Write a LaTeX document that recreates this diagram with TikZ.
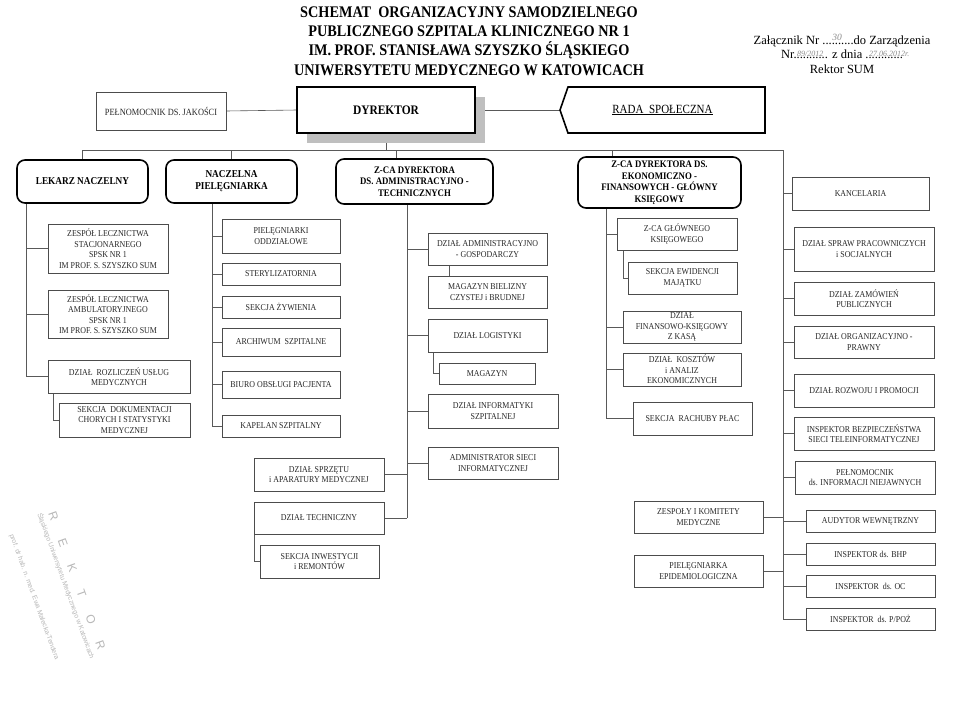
\documentclass[tikz,border=0pt]{standalone}
\usepackage{fontspec}
\setmainfont{Liberation Serif}
\newfontfamily\cnd[FakeStretch=0.88]{Liberation Serif}
\newfontfamily\stampfont{Liberation Sans}
\usetikzlibrary{shadows,backgrounds}
\tikzset{
  box/.style={draw=black!70, line width=0.6pt, fill=white, inner sep=1pt, outer sep=0pt,
    align=center, font=\cnd\fontsize{9}{10.5}\selectfont, text=black!85},
  chief/.style={box, draw=black, line width=1.6pt, rounded corners=8pt,
    font=\cnd\bfseries\fontsize{10.5}{12}\selectfont, text=black},
  link/.style={draw=black!65, line width=0.6pt},
  stamp/.style={rotate=-70, text=black!28, inner sep=0pt},
}
\newcommand\hw[3][3pt]{\rlap{\raisebox{#1}{\kern0.5pt\itshape\fontsize{#2}{#2}\selectfont\color{black!45}#3}}}
\newcommand\bx[7][]{\node[box,minimum width=#5pt-#3pt,minimum height=#6pt-#4pt,#1] (#2) at ({(#3+#5)/2},{(#4+#6)/2}) {#7};}
\begin{document}
\begin{tikzpicture}[x=1pt,y=-1pt]
\useasboundingbox (0,0) rectangle (960,715);

% ---------- header ----------
\node[font=\cnd\bfseries\fontsize{16.2}{19.3}\selectfont, align=center, inner sep=0pt] (title) at (469,41)
  {SCHEMAT\ \ ORGANIZACYJNY SAMODZIELNEGO\\PUBLICZNEGO SZPITALA KLINICZNEGO NR 1\\IM. PROF. STANISŁAWA SZYSZKO ŚLĄSKIEGO\\UNIWERSYTETU MEDYCZNEGO W KATOWICACH};
\node[font=\fontsize{12.5}{14.5}\selectfont, align=center, inner sep=0pt] (zal) at (842,54)
  {Załącznik Nr ...\hw[3.5pt]{9.5}{30}.......do Zarządzenia\\Nr.\hw[2pt]{8}{89/2012}.......... z dnia .\hw[2pt]{8}{27.06.2012r.}...........\\Rektor SUM};

% ---------- stamp ----------
\node[stamp, font=\stampfont\fontsize{12}{12}\selectfont] (st1) at (77,581) {R\hspace{1.6em}E\hspace{1.6em}K\hspace{1.6em}T\hspace{1.6em}O\hspace{1.6em}R};
\node[stamp, font=\stampfont\fontsize{6.8}{6.8}\selectfont] (st2) at (66,586) {Śląskiego Uniwersytetu Medycznego w Katowicach};
\node[stamp, font=\stampfont\fontsize{6.8}{6.8}\selectfont] (st3) at (34,597) {prof. dr hab. n. med. Ewa Małecka-Tendera};

% ---------- top row ----------
\bx[font=\cnd\fontsize{9.5}{11}\selectfont]{pel}{96}{92}{226}{130}{PEŁNOMOCNIK DS. JAKOŚCI}
\bx[draw=black, line width=1.6pt, text=black, font=\cnd\bfseries\fontsize{13}{15}\selectfont,
    drop shadow={shadow xshift=10pt, shadow yshift=-10pt, fill=black!25, opacity=1}]{dyr}{297}{87}{475}{133}{DYREKTOR}
\node[inner sep=0pt, outer sep=0pt, minimum width=205pt, minimum height=46pt,
      font=\cnd\fontsize{12.5}{14}\selectfont] (rada) at (662.5,110) {\underline{RADA\ \ SPOŁECZNA}};
\draw[line width=1.6pt] ([xshift=8pt]rada.north west) -- (rada.north east) -- (rada.south east)
   -- ([xshift=8pt]rada.south west) -- (rada.west) -- cycle;

% ---------- chiefs ----------
\bx[chief]{lek}{17}{160}{148}{203}{LEKARZ NACZELNY}
\bx[chief]{nacz}{166}{160}{297}{203}{NACZELNA\\PIELĘGNIARKA}
\bx[chief, font=\cnd\bfseries\fontsize{10}{11.5}\selectfont]{adm}{336}{159}{493}{204}{Z-CA DYREKTORA\\DS. ADMINISTRACYJNO -\\TECHNICZNYCH}
\bx[chief, font=\cnd\bfseries\fontsize{10}{11.5}\selectfont]{ekon}{578}{157}{741}{208}{Z-CA DYREKTORA DS.\\EKONOMICZNO -\\FINANSOWYCH - GŁÓWNY\\KSIĘGOWY}

% ---------- column: lekarz ----------
\bx{z1}{48}{224}{168}{273}{ZESPÓŁ LECZNICTWA\\STACJONARNEGO\\SPSK NR 1\\IM PROF. S. SZYSZKO SUM}
\bx{z2}{48}{290}{168}{338}{ZESPÓŁ LECZNICTWA\\AMBULATORYJNEGO\\SPSK NR 1\\IM PROF. S. SZYSZKO SUM}
\bx{roz}{48}{360}{190}{393}{DZIAŁ\ \ ROZLICZEŃ USŁUG\\MEDYCZNYCH}
\bx{sekd}{59}{403}{190}{437}{SEKCJA\ \ DOKUMENTACJI\\CHORYCH I STATYSTYKI\\MEDYCZNEJ}

% ---------- column: naczelna ----------
\bx{pielo}{222}{219}{340}{253}{PIELĘGNIARKI\\ODDZIAŁOWE}
\bx{ster}{222}{263}{340}{285}{STERYLIZATORNIA}
\bx{zyw}{222}{296}{340}{318}{SEKCJA ŻYWIENIA}
\bx{arch}{222}{328}{340}{356}{ARCHIWUM\ \ SZPITALNE}
\bx{biuro}{222}{371}{340}{398}{BIURO OBSŁUGI PACJENTA}
\bx{kap}{222}{415}{340}{437}{KAPELAN SZPITALNY}

% ---------- column: administracja ----------
\bx{dag}{428}{233}{547}{265}{DZIAŁ ADMINISTRACYJNO\\- GOSPODARCZY}
\bx{mbiel}{428}{276}{547}{308}{MAGAZYN BIELIZNY\\CZYSTEJ i BRUDNEJ}
\bx{dlog}{428}{319}{547}{352}{DZIAŁ LOGISTYKI}
\bx{mag}{439}{363}{535}{384}{MAGAZYN}
\bx{dinf}{428}{394}{558}{428}{DZIAŁ INFORMATYKI\\SZPITALNEJ}
\bx{asi}{428}{447}{558}{479}{ADMINISTRATOR SIECI\\INFORMATYCZNEJ}
\bx{dsp}{254}{458}{384}{491}{DZIAŁ SPRZĘTU\\i APARATURY MEDYCZNEJ}
\bx{dtech}{254}{502}{384}{534}{DZIAŁ TECHNICZNY}
\bx{sinw}{260}{545}{379}{578}{SEKCJA INWESTYCJI\\i REMONTÓW}

% ---------- column: ekonomia ----------
\bx{zgl}{617}{218}{737}{250}{Z-CA GŁÓWNEGO\\KSIĘGOWEGO}
\bx{sew}{628}{262}{737}{294}{SEKCJA EWIDENCJI\\MAJĄTKU}
\bx{dfin}{623}{311}{741}{343}{DZIAŁ\\FINANSOWO-KSIĘGOWY\\Z KASĄ}
\bx{dkosz}{623}{353}{741}{386}{DZIAŁ\ \ KOSZTÓW\\i ANALIZ\\EKONOMICZNYCH}
\bx{srach}{633}{402}{752}{435}{SEKCJA\ \ RACHUBY PŁAC}

% ---------- column: right ----------
\bx{kanc}{792}{177}{929}{210}{KANCELARIA}
\bx{dspr}{794}{227}{934}{271}{DZIAŁ SPRAW PRACOWNICZYCH\\i SOCJALNYCH}
\bx{dzam}{794}{282}{934}{315}{DZIAŁ ZAMÓWIEŃ\\PUBLICZNYCH}
\bx{dorg}{794}{326}{934}{358}{DZIAŁ ORGANIZACYJNO -\\PRAWNY}
\bx{droz}{794}{374}{934}{407}{DZIAŁ ROZWOJU I PROMOCJI}
\bx{insb}{794}{417}{934}{450}{INSPEKTOR BEZPIECZEŃSTWA\\SIECI TELEINFORMATYCZNEJ}
\bx{peln}{795}{461}{935}{494}{PEŁNOMOCNIK\\ds. INFORMACJI NIEJAWNYCH}
\bx{aud}{806}{510}{935}{532}{AUDYTOR WEWNĘTRZNY}
\bx{bhp}{806}{543}{935}{565}{INSPEKTOR ds. BHP}
\bx{oc}{806}{575}{935}{597}{INSPEKTOR\ \ ds. OC}
\bx{ppoz}{806}{608}{935}{630}{INSPEKTOR\ \ ds. P/POŻ}
\bx{zesp}{634}{501}{763}{533}{ZESPOŁY I KOMITETY\\MEDYCZNE}
\bx{pepi}{634}{555}{763}{587}{PIELĘGNIARKA\\EPIDEMIOLOGICZNA}

% ---------- connectors ----------
\coordinate (busL) at (82,150);
\coordinate (busR) at (783,150);
\coordinate (dA) at (396,150);
\coordinate (dE) at (612,150);
\coordinate (tL) at (26,0);
\coordinate (tN) at (212,0);
\coordinate (tA) at (407,0);
\coordinate (tE) at (606,0);
\coordinate (tR) at (783,0);
\coordinate (sL) at (53,0);
\coordinate (sA1) at (449,0);
\coordinate (sA2) at (433,0);
\coordinate (sE) at (623,0);

\begin{scope}[on background layer]
\fill[white] (0,0) rectangle (960,715);
\draw[link] (pel.east) -- (dyr.west);
\draw[link] (dyr.east) -- (rada.west);
\draw[link] (busL) -- (busR);
\draw[link] (lek.north) -- (lek.north |- busL);
\draw[link] (nacz.north) -- (nacz.north |- busL);
\draw[link] (dyr.south) -- (dyr.south |- busL);
\draw[link] (dA) -- (dA |- adm.north);
\draw[link] (dE) -- (dE |- ekon.north);
\draw[link] (busR) -- (tR |- ppoz.west);

% lekarz
\draw[link] (lek.south -| tL) -- (tL |- roz.west);
\foreach \n in {z1,z2,roz} \draw[link] (\n.west) -- (\n.west -| tL);
\draw[link] (roz.south -| sL) |- (sekd.west);

% naczelna
\draw[link] (nacz.south -| tN) -- (tN |- kap.west);
\foreach \n in {pielo,ster,zyw,arch,biuro,kap} \draw[link] (\n.west) -- (\n.west -| tN);

% administracja
\draw[link] (adm.south -| tA) -- (tA |- dtech.east);
\foreach \n in {dag,dlog,dinf,asi} \draw[link] (\n.west) -- (\n.west -| tA);
\foreach \n in {dsp,dtech} \draw[link] (\n.east) -- (\n.east -| tA);
\draw[link] (dag.south -| sA1) -- (mbiel.north -| sA1);
\draw[link] (dlog.south -| sA2) |- (mag.west);
\draw[link] (dtech.south west) |- (sinw.west);

% ekonomia
\draw[link] (ekon.south -| tE) -- (tE |- srach.west);
\foreach \n in {zgl,dfin,dkosz,srach} \draw[link] (\n.west) -- (\n.west -| tE);
\draw[link] (zgl.south -| sE) |- (sew.west);

% right
\foreach \n in {kanc,dspr,dzam,dorg,droz,insb,peln,aud,bhp,oc,ppoz} \draw[link] (\n.west) -- (\n.west -| tR);
\foreach \n in {zesp,pepi} \draw[link] (\n.east) -- (\n.east -| tR);
\end{scope}
\end{tikzpicture}
\end{document}
